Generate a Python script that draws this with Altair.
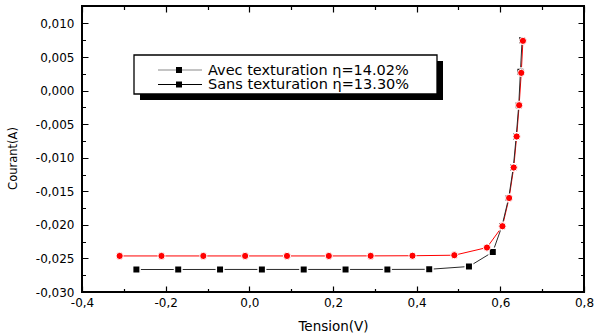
import altair as alt
import pandas as pd

# ---- data ----
# "Sans" series (black squares)
black_v = [-0.27, -0.17, -0.07, 0.03, 0.13, 0.23, 0.33, 0.43, 0.525, 0.582,
           0.604, 0.620, 0.631, 0.638, 0.644, 0.648, 0.652]
black_i = [-0.02665, -0.02665, -0.02664, -0.02664, -0.02664, -0.02664, -0.02664,
           -0.02662, -0.02620, -0.02404, -0.02016, -0.01599, -0.01146, -0.00684,
           -0.00218, 0.00279, 0.00751]
# red circles series
red_v = [-0.31, -0.21, -0.11, -0.01, 0.09, 0.19, 0.29, 0.39, 0.49, 0.568,
         0.605, 0.621, 0.632, 0.639, 0.645, 0.650, 0.654]
red_i = [-0.02463, -0.02463, -0.02463, -0.02463, -0.02463, -0.02463, -0.02462,
         -0.02460, -0.02452, -0.02338, -0.02020, -0.01600, -0.01146, -0.00684,
         -0.00218, 0.00264, 0.00741]

legend_labels = ["Avec texturation \u03b7=14.02%", "Sans texturation \u03b7=13.30%"]

x_major = [-0.4, -0.2, 0.0, 0.2, 0.4, 0.6, 0.8]
x_minor = [-0.3, -0.1, 0.1, 0.3, 0.5, 0.7]
y_major = [-0.030, -0.025, -0.020, -0.015, -0.010, -0.005, 0.000, 0.005, 0.010]
y_minor = [-0.0275, -0.0225, -0.0175, -0.0125, -0.0075, -0.0025, 0.0025, 0.0075]

x_domain = [-0.4, 0.8]
y_domain = [-0.030, 0.0126]

FONT = "DejaVu Sans"

df_black = pd.DataFrame({"v": black_v, "i": black_i})
df_red = pd.DataFrame({"v": red_v, "i": red_i})

xs = alt.Scale(domain=x_domain, nice=False, zero=False)
ys = alt.Scale(domain=y_domain, nice=False, zero=False)

x_main_axis = alt.Axis(
    orient="bottom", values=x_major,
    labelExpr="(datum.value < 0 ? '-' : '') + replace(format(abs(datum.value), '.1f'), '.', ',')",
    ticks=False, domain=False, grid=True, gridDash=[6, 274, 6], gridColor="black",
    gridWidth=1.2, gridOpacity=1, labelFont=FONT, labelFontSize=12, labelColor="black",
    labelPadding=5, labelFlush=False, labelOverlap=False,
    titleFont=FONT, titleFontSize=13.5, titleFontWeight="normal", titleColor="black",
    titleY=34, titleBaseline="middle",
)
y_main_axis = alt.Axis(
    orient="left", values=y_major,
    labelExpr="(datum.value < 0 ? '-' : '') + replace(format(abs(datum.value), '.3f'), '.', ',')",
    ticks=False, domain=False, grid=True, gridDash=[6, 490, 6], gridColor="black",
    gridWidth=1.2, gridOpacity=1, labelFont=FONT, labelFontSize=12, labelColor="black",
    labelPadding=8, labelFlush=False, labelOverlap=False,
    titleFont=FONT, titleFontSize=11.5, titleFontWeight="normal", titleColor="black",
    titleX=-69, titleY=152, titleBaseline="middle", titleAlign="center", titleAngle=270,
)
x_minor_axis = alt.Axis(
    orient="top", values=x_minor, labels=False, ticks=False, domain=False, grid=True,
    gridDash=[3.5, 279, 3.5], gridColor="black", gridWidth=1.2, gridOpacity=1, title=None,
)
y_minor_axis = alt.Axis(
    orient="right", values=y_minor, labels=False, ticks=False, domain=False, grid=True,
    gridDash=[3.5, 495, 3.5], gridColor="black", gridWidth=1.2, gridOpacity=1, title=None,
)

black_line = alt.Chart(df_black).mark_line(color="#2a2a2a", strokeWidth=1).encode(
    x=alt.X("v:Q", scale=xs, axis=x_minor_axis),
    y=alt.Y("i:Q", scale=ys, axis=y_minor_axis),
)
black_pts = alt.Chart(df_black).mark_square(
    fill="black", stroke="white", strokeWidth=1.5, size=56, opacity=1
).encode(
    x=alt.X("v:Q", scale=xs, axis=None),
    y=alt.Y("i:Q", scale=ys, axis=None),
)
red_line = alt.Chart(df_red).mark_line(color="red", strokeWidth=1).encode(
    x=alt.X("v:Q", scale=xs, axis=x_main_axis, title="Tension(V)"),
    y=alt.Y("i:Q", scale=ys, axis=y_main_axis, title="Courant(A)"),
)
red_pts = alt.Chart(df_red).mark_circle(
    fill="red", stroke="white", strokeWidth=1, size=52, opacity=1
).encode(
    x=alt.X("v:Q", scale=xs, axis=None),
    y=alt.Y("i:Q", scale=ys, axis=None),
)

# ---- legend box (Origin style with shadow) ----
one = pd.DataFrame({"k": [0]})
shadow = alt.Chart(one).mark_rect(fill="black").encode(
    x=alt.value(58), x2=alt.value(361), y=alt.value(55), y2=alt.value(94))
box = alt.Chart(one).mark_rect(fill="white", stroke="black", strokeWidth=1.3).encode(
    x=alt.value(52), x2=alt.value(355), y=alt.value(49), y2=alt.value(88))

leg_layers = []
row_y = [64, 78.5]
row_col = ["#8a8a8a", "black"]
for lab, yy, col in zip(legend_labels, row_y, row_col):
    d = pd.DataFrame({"t": [lab]})
    leg_layers.append(alt.Chart(d).mark_rule(color=col, strokeWidth=1.2).encode(
        x=alt.value(76), x2=alt.value(120), y=alt.value(yy)))
    leg_layers.append(alt.Chart(d).mark_square(fill="black", size=36, opacity=1).encode(
        x=alt.value(97), y=alt.value(yy)))
    leg_layers.append(alt.Chart(d).mark_text(
        align="left", baseline="middle", font=FONT, fontSize=14.5, color="black").encode(
        x=alt.value(126), y=alt.value(yy + 0.5), text="t:N"))

chart = alt.layer(
    red_line, black_line, black_pts, red_pts, shadow, box, *leg_layers
).resolve_axis(x="independent", y="independent").properties(
    width=502, height=286,
    padding={"left": 82, "top": 6, "right": 11, "bottom": 42},
    autosize=alt.AutoSizeParams(type="none"),
    background="white",
).configure_view(stroke="black", strokeWidth=2)

chart.save("out.html", embed_options={"renderer": "svg", "actions": False})
